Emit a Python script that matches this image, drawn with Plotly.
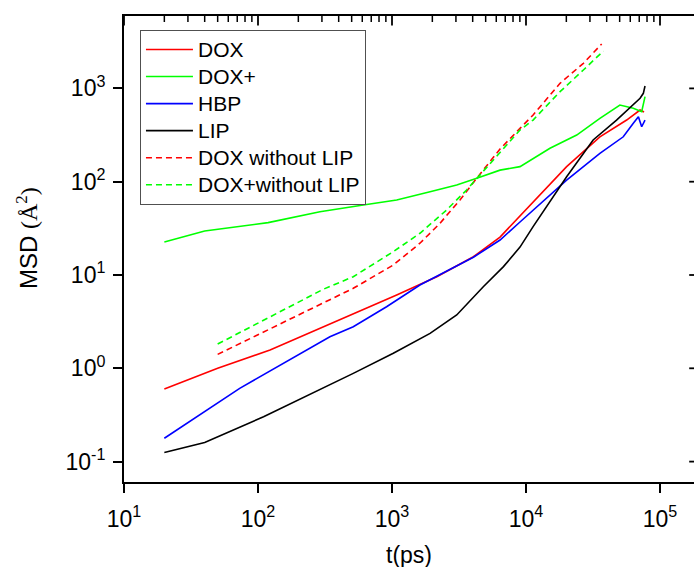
import plotly.graph_objects as go

# Mean square displacement vs lag time (log-log)
dox_t = [20, 50, 123, 344, 577, 1084, 2160, 4050, 6400, 9020, 11300, 20100, 35600, 56400, 71000, 76000]
dox_msd = [0.60, 1.0, 1.57, 2.98, 4.04, 6.1, 9.6, 15.7, 25.5, 42.9, 59.1, 145, 303, 458, 587, 558]

doxp_t = [20, 40, 119, 290, 611, 1084, 1923, 3040, 4290, 6400, 9020, 15100, 23900, 35600, 50200, 63200, 73000, 77300]
doxp_msd = [22.6, 29.6, 36.4, 47.7, 56.3, 63.7, 78.1, 92.2, 109, 133, 145, 228, 316, 478, 664, 612, 563, 815]

hbp_t = [20, 73, 344, 514, 911, 1616, 4050, 6400, 9020, 11300, 20100, 35600, 53200, 63200, 69000, 73000, 77300]
hbp_msd = [0.178, 0.61, 2.18, 2.79, 4.57, 7.81, 15.5, 23.7, 37.0, 49.8, 104, 201, 303, 423, 497, 388, 458]

lip_t = [20, 40, 110, 344, 514, 1023, 1923, 3040, 4800, 6790, 9020, 11300, 20100, 31700, 47400, 71000, 75100, 77300]
lip_msd = [0.125, 0.160, 0.303, 0.662, 0.883, 1.45, 2.37, 3.73, 7.49, 12.3, 19.9, 33.0, 113, 280, 458, 783, 886, 1061]

dox_nolip_t = [50, 307, 514, 1023, 1616, 2280, 3214, 4290, 6400, 9020, 11300, 17950, 26800, 36700]
dox_nolip_msd = [1.41, 5.05, 7.20, 12.8, 21.9, 35.8, 63.7, 109, 224, 373, 519, 1135, 1858, 2992]

doxp_nolip_t = [50, 307, 514, 1023, 1616, 2558, 3603, 4540, 6400, 9020, 11300, 17950, 26800, 37800]
doxp_nolip_msd = [1.82, 7.03, 9.59, 17.8, 28.0, 49.8, 81.5, 118, 206, 358, 458, 922, 1574, 2517]

x_major = [1e1, 1e2, 1e3, 1e4, 1e5]
x_major_text = ["10<sup>1</sup>", "10<sup>2</sup>", "10<sup>3</sup>", "10<sup>4</sup>", "10<sup>5</sup>"]
y_major = [1e-1, 1e0, 1e1, 1e2, 1e3]
y_major_text = ["10<sup>-1</sup>", "10<sup>0</sup>", "10<sup>1</sup>", "10<sup>2</sup>", "10<sup>3</sup>"]

series = [
    ("DOX", dox_t, dox_msd, "#ff0000", "solid"),
    ("DOX+", doxp_t, doxp_msd, "#00ff00", "solid"),
    ("HBP", hbp_t, hbp_msd, "#0000ff", "solid"),
    ("LIP", lip_t, lip_msd, "#000000", "solid"),
    ("DOX without LIP", dox_nolip_t, dox_nolip_msd, "#ff0000", "6px,4px"),
    ("DOX+without LIP", doxp_nolip_t, doxp_nolip_msd, "#00ff00", "6px,4px"),
]

LEG_SIZE = 21


def leg_label(s):
    return f"<span style='font-size:{LEG_SIZE}px'>{s}</span>"


fig = go.Figure()
for name, t, msd, color, dash in series:
    fig.add_trace(go.Scatter(x=t, y=msd, name=leg_label(name), mode="lines",
                             line=dict(color=color, width=1.6, dash=dash)))

FONT = "Liberation Sans, Arial, sans-serif"
x_range = [1, 1 + 570 / 134]
y_range = [-1.2186, 3.776]
x_lo, x_hi = 10 ** x_range[0], 10 ** x_range[1]
y_lo, y_hi = 10 ** y_range[0], 10 ** y_range[1]


def minor_vals(lo, hi, vmin, vmax):
    vals = []
    for d in range(lo, hi + 1):
        for k in range(2, 10):
            v = k * 10.0 ** d
            if vmin <= v <= vmax:
                vals.append(v)
    return vals


x_minor = minor_vals(1, 5, x_lo, x_hi)
y_minor = minor_vals(-2, 3, y_lo, y_hi)

# Frame ticks drawn as short line-symbol markers (not clipped to the plot box).
# A hidden helper axis pair (x2/y2) spans the plot box with linear [0, 1]
# ranges, so the tick centre offsets are given as fractions of the box.
PLOT_W = 570.0
PLOT_H = 466.0
MINOR_W = 1.5
MAJOR_W = 1.8


def add_xticks(vals, centre_px, length, width):
    # centre_px: offset of the tick centre from the bottom edge, in pixels
    frac = centre_px / PLOT_H
    fig.add_trace(go.Scatter(x=vals, y=[frac] * len(vals), xaxis="x", yaxis="y2",
                             mode="markers", cliponaxis=False,
                             marker=dict(symbol="line-ns", size=length, color="black",
                                         line=dict(color="black", width=width)),
                             showlegend=False, hoverinfo="skip"))


def add_yticks(vals, centre_px, length, width):
    # centre_px: offset of the tick centre from the left edge, in pixels
    frac = centre_px / PLOT_W
    fig.add_trace(go.Scatter(x=[frac] * len(vals), y=vals, xaxis="x2", yaxis="y",
                             mode="markers", cliponaxis=False,
                             marker=dict(symbol="line-ew", size=length, color="black",
                                         line=dict(color="black", width=width)),
                             showlegend=False, hoverinfo="skip"))


# bottom: outward minor + major
add_xticks(x_minor, -2.5, 5, MINOR_W)
add_xticks(x_major, -4.5, 9, MAJOR_W)
# top: inward minor + major
add_xticks(x_minor, PLOT_H - 2.5, 5, MINOR_W)
add_xticks(x_major, PLOT_H - 4, 8, MAJOR_W)
# left: outward minor + major
add_yticks(y_minor, -2.5, 5, MINOR_W)
add_yticks(y_major, -4.5, 9, MAJOR_W)
# right: inward major ticks (the right frame edge sits just off the page)
add_yticks(y_major, PLOT_W - 2, 4, MAJOR_W)

base = dict(showgrid=False, zeroline=False, tickcolor="black")

fig.update_layout(
    width=694, height=567,
    margin=dict(l=124, r=0, t=16, b=85),
    paper_bgcolor="white", plot_bgcolor="white",
    font=dict(family=FONT, size=23, color="black"),
    showlegend=True,
    legend=dict(x=0.028, y=0.970, xanchor="left", yanchor="top",
                bordercolor="#505050", borderwidth=1, bgcolor="white",
                font=dict(size=18.5, family=FONT), tracegroupgap=0,
                itemwidth=47),
    xaxis=dict(**base, type="log", range=x_range, tickmode="array",
               tickvals=x_major, ticktext=x_major_text,
               showline=True, linecolor="black", linewidth=2, mirror=True,
               ticks="outside", ticklen=9, tickwidth=MAJOR_W,
               tickfont=dict(size=23), ticklabelstandoff=6),
    yaxis=dict(**base, type="log", range=y_range, tickmode="array",
               tickvals=y_major, ticktext=y_major_text,
               showline=True, linecolor="black", linewidth=2,
               ticks="outside", ticklen=9, tickwidth=MAJOR_W,
               tickfont=dict(size=23), ticklabelstandoff=3),
    xaxis2=dict(**base, type="linear", range=[0, 1], overlaying="x", visible=False),
    yaxis2=dict(**base, type="linear", range=[0, 1], overlaying="y", visible=False),
    annotations=[
        dict(text="t(ps)", xref="paper", yref="paper", x=0.5, y=-0.1567,
             xanchor="center", yanchor="middle", showarrow=False,
             font=dict(size=23, family=FONT)),
        dict(text="MSD <span style='font-family:Liberation Serif'>(Å<sup>2</sup>)</span>",
             xref="paper", yref="paper", x=-0.1702, y=0.5236, textangle=-90,
             xanchor="center", yanchor="middle", showarrow=False,
             font=dict(size=24, family=FONT)),
    ],
)

fig.write_html("out.html")
